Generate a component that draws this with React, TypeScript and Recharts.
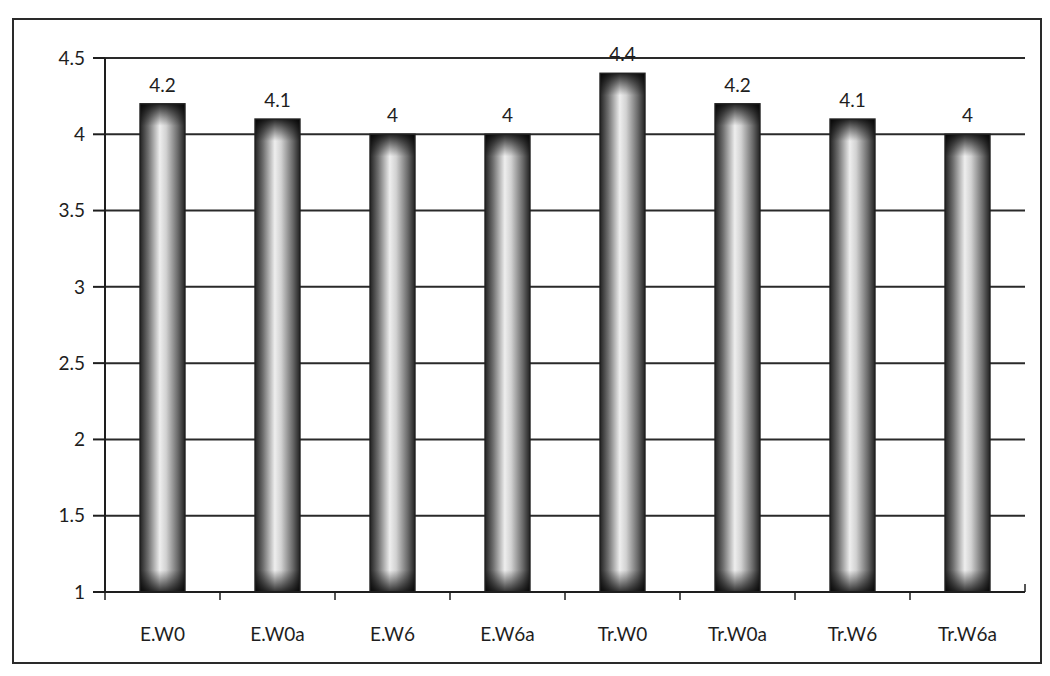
import React from "react";
import { BarChart, Bar, XAxis, YAxis, CartesianGrid, LabelList } from "recharts";

const groups = ["E.W0", "E.W0a", "E.W6", "E.W6a", "Tr.W0", "Tr.W0a", "Tr.W6", "Tr.W6a"];
const scores = [4.2, 4.1, 4, 4, 4.4, 4.2, 4.1, 4];
const yTicks = [1, 1.5, 2, 2.5, 3, 3.5, 4, 4.5];

const data = groups.map((name, i) => ({ name, score: scores[i] }));

const FONT = "Lato, 'Open Sans', sans-serif";
const INK = "#1e1e1e";
const PLOT_LEFT = 105;
const PLOT_RIGHT = 1025;
const BAND = (PLOT_RIGHT - PLOT_LEFT) / groups.length;

// cylinder-looking bar: light centre, dark sides, shaded top and bottom ends
const CylinderBar = (props: any) => {
  const { x, y, width, height, index } = props;
  if (!height || height <= 0) return null;
  const edge = Math.min(0.2, 22 / height);
  const id = `ends-${index}`;
  return (
    <g>
      <defs>
        <linearGradient id={id} x1="0" y1="0" x2="0" y2="1">
          <stop offset="0" stopColor="#000" stopOpacity={0.85} />
          <stop offset={edge} stopColor="#000" stopOpacity={0} />
          <stop offset={1 - edge} stopColor="#000" stopOpacity={0} />
          <stop offset="1" stopColor="#000" stopOpacity={0.8} />
        </linearGradient>
      </defs>
      <rect x={x} y={y} width={width} height={height} fill="url(#cylSides)" />
      <rect x={x} y={y} width={width} height={height} fill={`url(#${id})`} />
      <rect x={x} y={y} width={width} height={height} fill="none" stroke="#222" strokeWidth={1.4} />
    </g>
  );
};

const GroupTick = (props: any) => {
  const { x, y, payload, index } = props;
  const last = index === groups.length - 1;
  return (
    <g>
      <line x1={x - BAND / 2} y1={y - 8} x2={x - BAND / 2} y2={y} stroke={INK} strokeWidth={1.5} />
      {last && <line x1={x + BAND / 2} y1={y - 16} x2={x + BAND / 2} y2={y - 8} stroke={INK} strokeWidth={1.5} />}
      <text x={x} y={y + 41} textAnchor="middle" fill={INK} fontSize={19} fontFamily={FONT}>
        {payload.value}
      </text>
    </g>
  );
};

export default function App() {
  return (
    <div style={{ position: "absolute", left: 0, top: 0, width: 1050, height: 676, background: "#fff" }}>
      <div
        style={{
          position: "absolute",
          left: 12,
          top: 18,
          width: 1030,
          height: 646,
          border: "2px solid #2a2a2a",
          boxSizing: "border-box",
        }}
      />
      <div style={{ position: "absolute", left: 0, top: 0 }}>
        <BarChart
          width={1050}
          height={676}
          data={data}
          margin={{ top: 58, right: 1050 - PLOT_RIGHT, left: 20, bottom: 34 }}
          barSize={45}
        >
          <defs>
            <linearGradient id="cylSides" x1="0" y1="0" x2="1" y2="0">
              <stop offset="0" stopColor="#222" />
              <stop offset="0.18" stopColor="#6e6e6e" />
              <stop offset="0.44" stopColor="#eeeeee" />
              <stop offset="0.58" stopColor="#d2d2d2" />
              <stop offset="0.84" stopColor="#6a6a6a" />
              <stop offset="1" stopColor="#222" />
            </linearGradient>
          </defs>
          <CartesianGrid vertical={false} stroke="#2a2a2a" strokeWidth={2} />
          <XAxis
            dataKey="name"
            axisLine={{ stroke: INK, strokeWidth: 2 }}
            tickLine={false}
            tick={<GroupTick />}
            height={50}
            interval={0}
          />
          <YAxis
            domain={[1, 4.5]}
            ticks={yTicks}
            width={85}
            axisLine={{ stroke: INK, strokeWidth: 2 }}
            tickLine={{ stroke: INK, strokeWidth: 2 }}
            tickSize={12}
            tickMargin={8}
            tick={{ fill: INK, fontSize: 19, fontFamily: FONT }}
          />
          <Bar dataKey="score" shape={<CylinderBar />} isAnimationActive={false}>
            <LabelList
              dataKey="score"
              position="top"
              offset={12}
              fill={INK}
              fontSize={19}
              fontFamily={FONT}
            />
          </Bar>
        </BarChart>
      </div>
    </div>
  );
}
